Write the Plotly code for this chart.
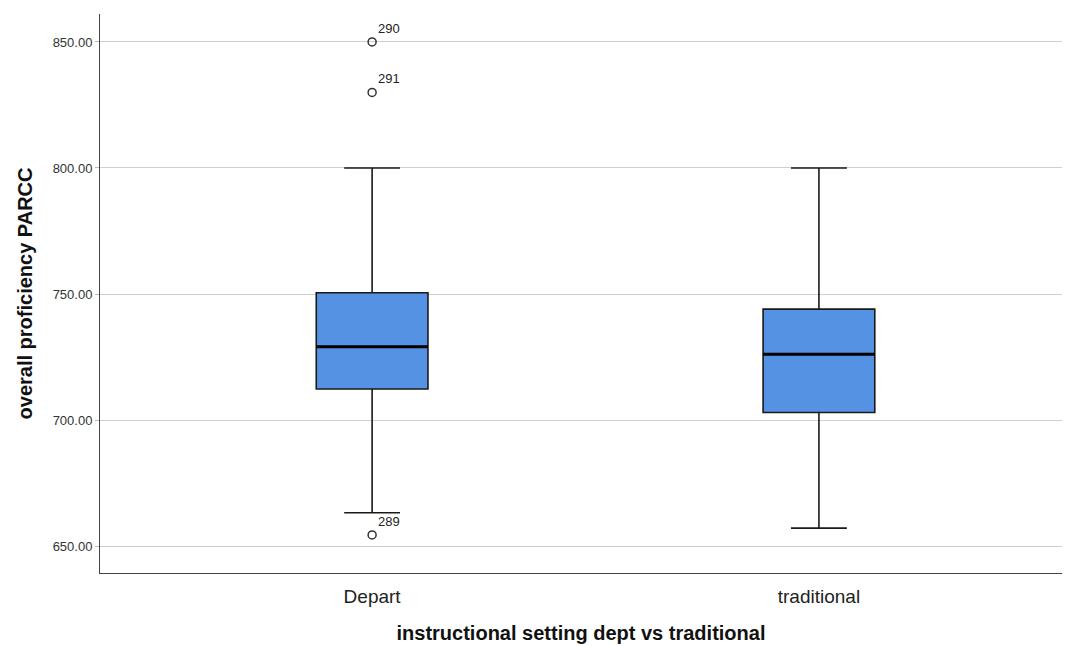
import plotly.graph_objects as go

# Group summary statistics for PARCC overall proficiency
groups = ["Depart", "traditional"]
q1 = [712.3, 703.0]
median = [729.1, 726.1]
q3 = [750.5, 744.0]
lower_whisker = [663.2, 657.1]
upper_whisker = [800.0, 800.0]

# Outlying cases (group index, value, case id)
outlier_group = [0, 0, 0]
outlier_value = [850.0, 830.0, 654.4]
outlier_case = ["290", "291", "289"]

y_ticks = [650, 700, 750, 800, 850]

box_width = 0.25
fill = "#5592E3"
font_family = "Arial, Liberation Sans, sans-serif"

fig = go.Figure()
for i, g in enumerate(groups):
    fig.add_trace(go.Box(
        x=[i], q1=[q1[i]], median=[median[i]], q3=[q3[i]],
        lowerfence=[lower_whisker[i]], upperfence=[upper_whisker[i]],
        width=box_width, whiskerwidth=0.5,
        fillcolor=fill, line=dict(color="#1a1a1a", width=1.6),
        boxpoints=False, showlegend=False, hoverinfo="skip",
    ))
    # thicker median bar
    fig.add_trace(go.Scatter(
        x=[i - box_width / 2, i + box_width / 2], y=[median[i], median[i]],
        mode="lines", line=dict(color="black", width=3),
        showlegend=False, hoverinfo="skip",
    ))

fig.add_trace(go.Scatter(
    x=outlier_group, y=outlier_value, mode="markers+text",
    marker=dict(symbol="circle-open", size=8, color="#333333", line=dict(width=1.5)),
    text=outlier_case, textposition="top right",
    textfont=dict(family=font_family, size=13, color="#222"),
    showlegend=False, hoverinfo="skip",
))

fig.update_layout(
    width=1076, height=646,
    margin=dict(l=100, r=14, t=14, b=73),
    paper_bgcolor="white", plot_bgcolor="white",
    font=dict(family=font_family, color="#222"),
)
fig.update_xaxes(
    range=[-0.609, 1.544], tickvals=[0, 1], ticktext=groups, automargin=False,
    tickfont=dict(size=19, color="#222"), ticklabelstandoff=6,
    showgrid=False, zeroline=False, showline=True, linecolor="#444", linewidth=1,
    ticks="", title=dict(text="<b>instructional setting dept vs traditional</b>",
                         font=dict(size=20, color="#111"), standoff=20),
)
fig.update_yaxes(
    range=[639.3, 861.1], tickvals=y_ticks, automargin=False,
    ticktext=[f"{v:.2f}" for v in y_ticks],
    tickfont=dict(size=13, color="#333"),
    showgrid=True, gridcolor="#cfcfcf", gridwidth=1.3, zeroline=False,
    showline=True, linecolor="#444", linewidth=1, ticks="outside", ticklen=4,
    tickcolor="#bbb",
    title=dict(text="<b>overall proficiency PARCC</b>",
               font=dict(size=20, color="#111"), standoff=14),
)

fig.write_html("out.html")
